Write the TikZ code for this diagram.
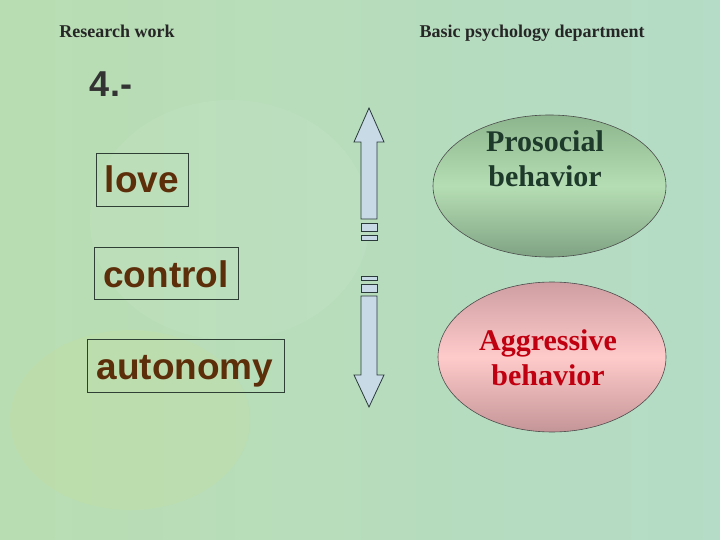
\documentclass[tikz,border=0pt]{standalone}
\usepackage{fontspec}
\setmainfont{Liberation Serif}
\newfontfamily\arialf{Liberation Sans}
\usetikzlibrary{shapes.geometric}
\definecolor{bgA}{HTML}{B9DDB2}
\definecolor{bgB}{HTML}{B4DCC6}
\definecolor{brownT}{HTML}{5C2E0A}
\definecolor{boxline}{HTML}{2F3F35}
\definecolor{arrfill}{HTML}{C8DAE6}
\definecolor{arrline}{HTML}{2A3A3A}
\definecolor{grTop}{HTML}{8DB58D}
\definecolor{grMid}{HTML}{B6DEB4}
\definecolor{grBot}{HTML}{7FA383}
\definecolor{rdTop}{HTML}{CE9EA2}
\definecolor{rdMid}{HTML}{FFCACA}
\definecolor{rdBot}{HTML}{C49597}
\definecolor{grText}{HTML}{1E3A2A}
\definecolor{rdText}{HTML}{C00010}
\begin{document}
\begin{tikzpicture}[x=1pt,y=-1pt,
  header/.style={font=\bfseries\fontsize{18}{20}\selectfont, text=black!85, inner sep=0pt, anchor=base},
  wordtext/.style={text=brownT, font=\arialf\bfseries\fontsize{37}{42}\selectfont, anchor=base, inner sep=0pt},
  wordbox/.style={draw=boxline, line width=0.8pt},
  arrowshape/.style={fill=arrfill, draw=arrline, line width=0.8pt},
  ovalbox/.style={ellipse, draw=black!70, line width=0.6pt, inner sep=0pt},
  ovaltext/.style={font=\bfseries\fontsize{30}{35}\selectfont, align=center, inner sep=0pt, anchor=base}
]
\useasboundingbox (0,0) rectangle (720,540);
\shade[left color=bgA, right color=bgB] (0,0) rectangle (720,540);
\fill[white, opacity=0.06] (230,220) ellipse (140 and 120);
\fill[yellow!40!bgA, opacity=0.12] (130,420) ellipse (120 and 90);

% headers
\node[header] (rw) at (117,38) {Research work};
\node[header] (bpd) at (532,38) {Basic psychology department};
\node[font=\arialf\bfseries\fontsize{36}{40}\selectfont, text=black!80, anchor=base, inner sep=0pt] (num) at (111,97) {4.-};

% word boxes
\draw[wordbox] (96,153) rectangle (188,206);
\node[wordtext] (love) at (142,193) {love};
\draw[wordbox] (94,247) rectangle (238,299);
\node[wordtext] (control) at (166,287) {control};
\draw[wordbox] (87,339) rectangle (284,392);
\node[wordtext] (autonomy) at (185,379) {autonomy};

% up arrow
\draw[arrowshape] (361,219) -- (361,142) -- (354,142) -- (369,108) -- (384,142) -- (377,142) -- (377,219) -- cycle;
\draw[arrowshape] (361,223) rectangle (377,231);
\draw[arrowshape] (361,235) rectangle (377,240);
% down arrow
\draw[arrowshape] (361,276) rectangle (377,280);
\draw[arrowshape] (361,284) rectangle (377,292);
\draw[arrowshape] (361,296) -- (361,375) -- (354,375) -- (369,407) -- (384,375) -- (377,375) -- (377,296) -- cycle;

% ovals
\node[ovalbox, minimum width=233pt, minimum height=142pt, top color=grTop, bottom color=grBot, middle color=grMid] (pro) at (549.5,186) {};
\node[ovaltext, text=grText] (protext) at (545,152) {Prosocial};
\node[ovaltext, text=grText] (protext2) at (545,187) {behavior};
\node[ovalbox, minimum width=228pt, minimum height=150pt, top color=rdTop, bottom color=rdBot, middle color=rdMid] (agg) at (552,357) {};
\node[ovaltext, text=rdText] (aggtext) at (548,350) {Aggressive};
\node[ovaltext, text=rdText] (aggtext2) at (548,385) {behavior};
\end{tikzpicture}
\end{document}
